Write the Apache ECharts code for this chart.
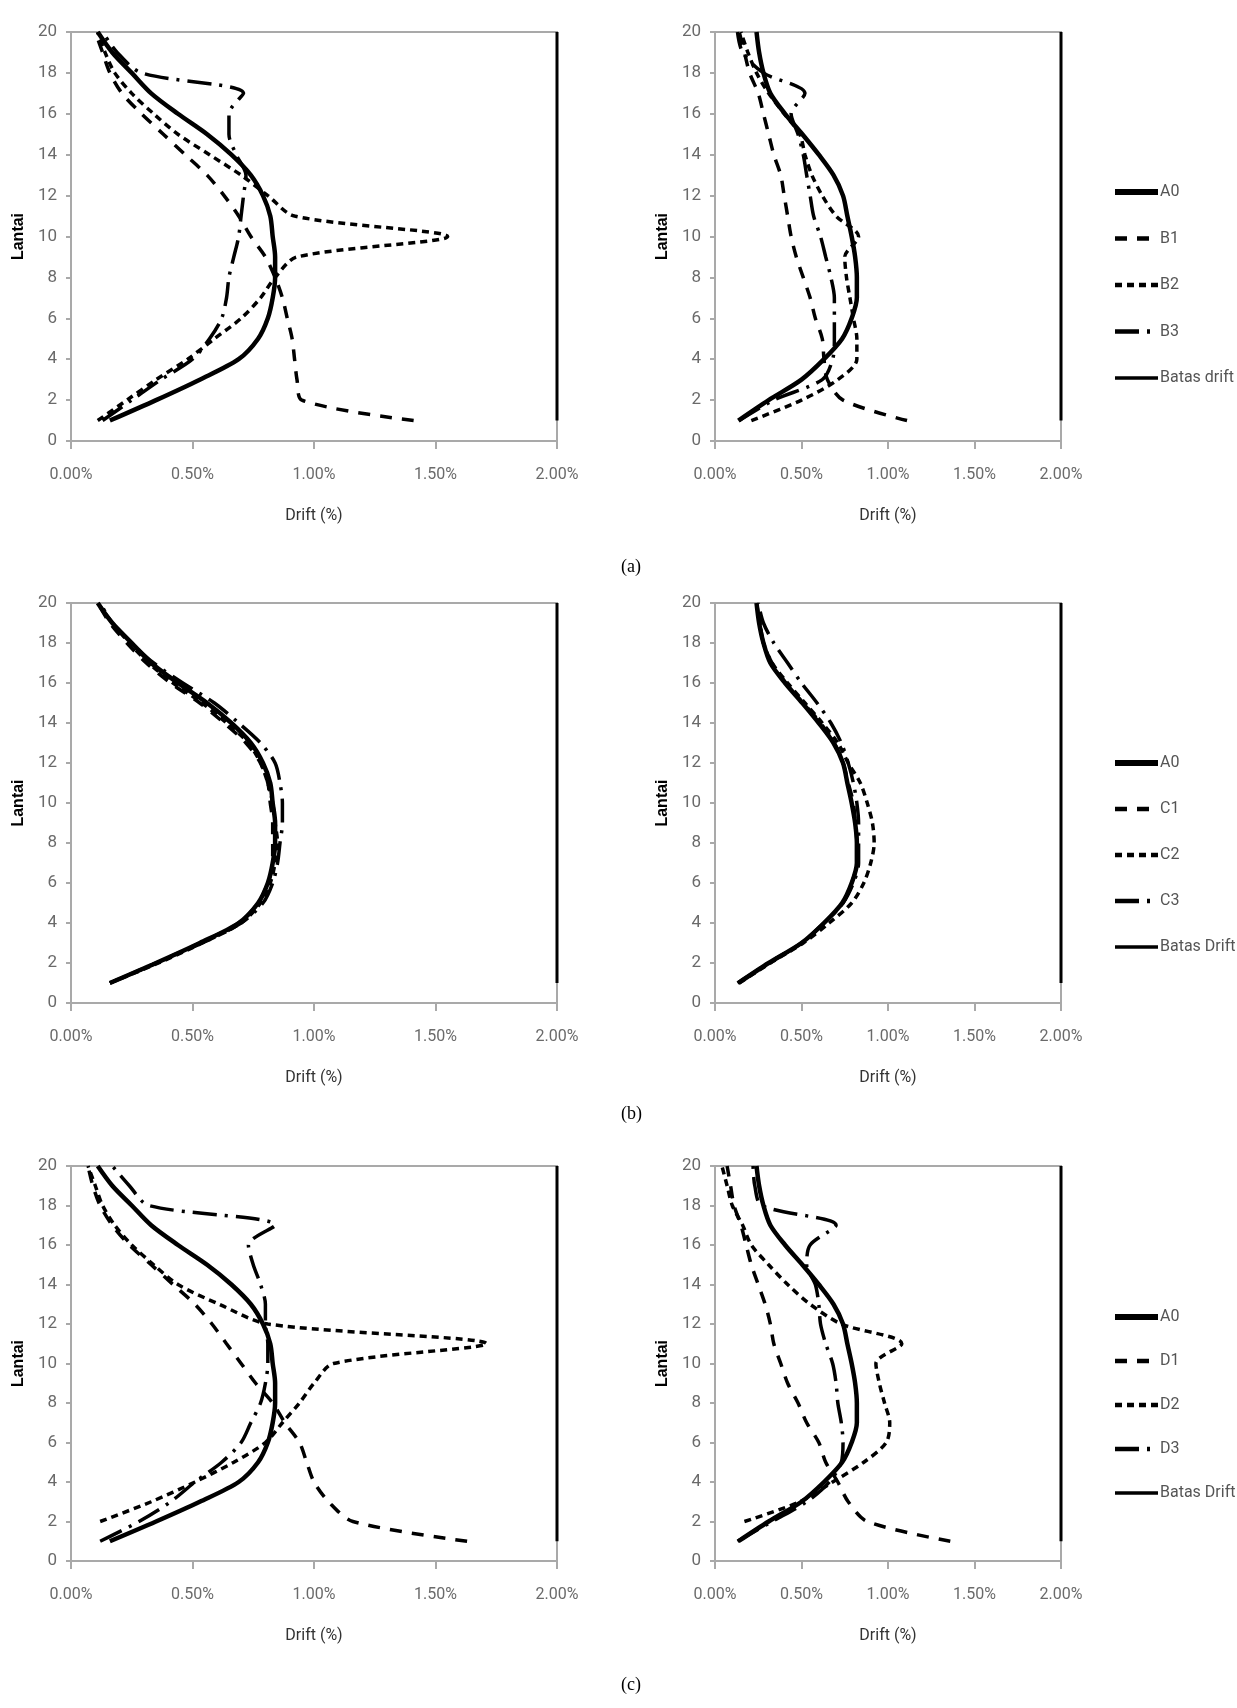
<!DOCTYPE html>
<html>
<head>
<meta charset="utf-8">
<script src="https://cdn.jsdelivr.net/npm/echarts@6/dist/echarts.min.js"></script>
<style>
html, body { margin: 0; padding: 0; background: #fff; }
#chart { width: 1237px; height: 1708px; }
</style>
</head>
<body>
<div id="chart"></div>
<script>
// lantai (floor) 1..20, drift in %
var floors = [1, 2, 3, 4, 5, 6, 7, 8, 9, 10, 11, 12, 13, 14, 15, 16, 17, 18, 19, 20];
var xTickLabels = ['0.00%', '0.50%', '1.00%', '1.50%', '2.00%'];
var driftLimit = 2.0;

// model A0 (same in every row)
var a0Left  = [0.16, 0.35, 0.53, 0.69, 0.77, 0.81, 0.83, 0.84, 0.84, 0.83, 0.82, 0.79, 0.74, 0.66, 0.56, 0.44, 0.33, 0.25, 0.17, 0.11];
var a0Right = [0.135, 0.31, 0.50, 0.63, 0.735, 0.79, 0.82, 0.82, 0.81, 0.79, 0.765, 0.74, 0.685, 0.60, 0.505, 0.405, 0.32, 0.28, 0.255, 0.24];

// row (a)
var b1Left  = [1.41, 0.95, 0.93, 0.92, 0.91, 0.89, 0.87, 0.84, 0.80, 0.74, 0.69, 0.63, 0.56, 0.47, 0.38, 0.29, 0.21, 0.16, 0.13, 0.10];
var b2Left  = [0.11, 0.23, 0.35, 0.48, 0.59, 0.70, 0.78, 0.84, 0.93, 1.55, 0.92, 0.81, 0.70, 0.57, 0.44, 0.34, 0.25, 0.18, 0.14, 0.11];
var b3Left  = [0.13, 0.25, 0.37, 0.50, 0.57, 0.62, 0.64, 0.65, 0.67, 0.69, 0.70, 0.71, 0.72, 0.68, 0.65, 0.65, 0.71, 0.29, 0.19, 0.13];
var b1Right = [1.11, 0.74, 0.65, 0.63, 0.62, 0.58, 0.55, 0.51, 0.47, 0.44, 0.42, 0.40, 0.38, 0.34, 0.31, 0.28, 0.25, 0.20, 0.17, 0.14];
var b2Right = [0.21, 0.50, 0.71, 0.82, 0.82, 0.80, 0.78, 0.76, 0.75, 0.83, 0.70, 0.62, 0.56, 0.52, 0.49, 0.40, 0.31, 0.24, 0.19, 0.15];
var b3Right = [0.14, 0.34, 0.62, 0.68, 0.69, 0.69, 0.69, 0.67, 0.64, 0.61, 0.57, 0.55, 0.53, 0.51, 0.48, 0.44, 0.52, 0.28, 0.16, 0.13];

// row (b)
var c1Left  = [0.16, 0.35, 0.53, 0.69, 0.77, 0.81, 0.83, 0.83, 0.83, 0.82, 0.81, 0.78, 0.72, 0.63, 0.53, 0.41, 0.31, 0.23, 0.16, 0.11];
var c2Left  = [0.16, 0.36, 0.54, 0.70, 0.78, 0.82, 0.84, 0.85, 0.84, 0.83, 0.81, 0.78, 0.73, 0.64, 0.54, 0.42, 0.32, 0.24, 0.17, 0.11];
var c3Left  = [0.16, 0.35, 0.54, 0.70, 0.79, 0.83, 0.85, 0.86, 0.87, 0.87, 0.86, 0.84, 0.78, 0.69, 0.59, 0.46, 0.34, 0.25, 0.17, 0.12];
var c1Right = [0.135, 0.31, 0.50, 0.63, 0.74, 0.79, 0.82, 0.82, 0.81, 0.80, 0.77, 0.74, 0.69, 0.61, 0.51, 0.41, 0.33, 0.28, 0.26, 0.24];
var c2Right = [0.14, 0.32, 0.51, 0.66, 0.79, 0.86, 0.90, 0.92, 0.91, 0.88, 0.84, 0.77, 0.71, 0.62, 0.52, 0.42, 0.33, 0.28, 0.26, 0.24];
var c3Right = [0.13, 0.31, 0.50, 0.63, 0.74, 0.80, 0.83, 0.83, 0.83, 0.82, 0.80, 0.77, 0.73, 0.67, 0.59, 0.50, 0.42, 0.34, 0.28, 0.25];

// row (c)
var d1Left  = [1.63, 1.16, 1.06, 1.00, 0.97, 0.94, 0.88, 0.83, 0.76, 0.70, 0.64, 0.58, 0.51, 0.42, 0.33, 0.24, 0.17, 0.12, 0.09, 0.07];
var d2Left  = [null, 0.12, 0.33, 0.51, 0.67, 0.80, 0.87, 0.94, 1.00, 1.08, 1.71, 0.81, 0.61, 0.44, 0.34, 0.25, 0.18, 0.13, 0.10, 0.07];
var d3Left  = [0.12, 0.28, 0.41, 0.51, 0.62, 0.70, 0.74, 0.78, 0.80, 0.81, 0.81, 0.80, 0.80, 0.78, 0.75, 0.73, 0.84, 0.32, 0.24, 0.17];
var d1Right = [1.36, 0.88, 0.77, 0.71, 0.64, 0.60, 0.53, 0.48, 0.42, 0.38, 0.34, 0.32, 0.29, 0.25, 0.21, 0.18, 0.15, 0.11, 0.09, 0.07];
var d2Right = [null, 0.17, 0.49, 0.68, 0.86, 0.99, 1.01, 0.98, 0.95, 0.93, 1.08, 0.73, 0.55, 0.42, 0.31, 0.21, 0.16, 0.10, 0.07, 0.04];
var d3Right = [0.13, 0.33, 0.53, 0.66, 0.73, 0.74, 0.73, 0.71, 0.70, 0.68, 0.64, 0.61, 0.60, 0.58, 0.53, 0.55, 0.70, 0.27, 0.23, 0.22];

var narrow = 'Roboto, "Liberation Sans", sans-serif';
var gray = '#a9a9a9';

// line look per position: A0, *1, *2, *3
var looks = [
  { width: 4.5, type: 'solid', legendWidth: 6 },
  { width: 3.5, type: [12, 10], legendWidth: 4.5 },
  { width: 3.5, type: [7, 5], legendWidth: 4.5 },
  { width: 3.5, type: [24, 8, 3, 8], legendWidth: 4.5 }
];

var panels = [
  { left: 71,  top: 32,   width: 486, height: 409, limit: 'Batas drift', lines: [['A0', a0Left], ['B1', b1Left], ['B2', b2Left], ['B3', b3Left]] },
  { left: 715, top: 32,   width: 346, height: 409, limit: 'Batas drift', lines: [['A0', a0Right], ['B1', b1Right], ['B2', b2Right], ['B3', b3Right]] },
  { left: 71,  top: 603,  width: 486, height: 400, limit: 'Batas Drift', lines: [['A0', a0Left], ['C1', c1Left], ['C2', c2Left], ['C3', c3Left]] },
  { left: 715, top: 603,  width: 346, height: 400, limit: 'Batas Drift', lines: [['A0', a0Right], ['C1', c1Right], ['C2', c2Right], ['C3', c3Right]] },
  { left: 71,  top: 1166, width: 486, height: 395, limit: 'Batas Drift', lines: [['A0', a0Left], ['D1', d1Left], ['D2', d2Left], ['D3', d3Left]] },
  { left: 715, top: 1166, width: 346, height: 395, limit: 'Batas Drift', lines: [['A0', a0Right], ['D1', d1Right], ['D2', d2Right], ['D3', d3Right]] }
];

function pairs(values) {
  var out = [];
  values.forEach(function (v, i) {
    if (v !== null) out.push([v, floors[i]]);
  });
  return out;
}

var grids = [], xAxes = [], yAxes = [], series = [];

panels.forEach(function (p, i) {
  grids.push({
    left: p.left, top: p.top, width: p.width, height: p.height,
    show: true, borderColor: gray, borderWidth: 2,
    outerBoundsMode: 'none'
  });
  xAxes.push({
    gridIndex: i, type: 'value', min: 0, max: 2, interval: 0.5,
    name: 'Drift (%)', nameLocation: 'middle', nameGap: 67,
    nameTextStyle: { color: '#333', fontSize: 16, fontFamily: narrow },
    axisLine: { show: true, lineStyle: { color: gray, width: 2 } },
    axisTick: { show: true, length: 8, lineStyle: { color: gray, width: 2 } },
    axisLabel: {
      color: '#6a6a6a', fontSize: 16, fontFamily: narrow, margin: 26,
      formatter: function (v) { return xTickLabels[Math.round(v / 0.5)]; }
    },
    splitLine: { show: false }
  });
  yAxes.push({
    gridIndex: i, type: 'value', min: 0, max: 20, interval: 2,
    name: 'Lantai', nameLocation: 'middle', nameGap: 44,
    nameTextStyle: { color: '#000', fontSize: 16, fontWeight: 'bold', fontFamily: '"Liberation Sans", Arial, sans-serif' },
    axisLine: { show: true, lineStyle: { color: gray, width: 2 } },
    axisTick: { show: true, length: 5, lineStyle: { color: gray, width: 2 } },
    axisLabel: { color: '#6a6a6a', fontSize: 17, fontFamily: narrow, margin: 14 },
    splitLine: { show: false }
  });
  p.lines.forEach(function (ln, k) {
    series.push({
      type: 'line', name: ln[0], xAxisIndex: i, yAxisIndex: i,
      data: pairs(ln[1]), symbol: 'none', smooth: 0.3,
      itemStyle: { color: '#000' },
      lineStyle: { color: '#000', width: looks[k].width, type: looks[k].type },
      z: 5 - k
    });
  });
  series.push({
    type: 'line', name: p.limit, xAxisIndex: i, yAxisIndex: i,
    data: [[driftLimit, 1], [driftLimit, 20]], symbol: 'none', clip: false,
    itemStyle: { color: '#000' },
    lineStyle: { color: '#000', width: 3 }, z: 6
  });
});

function legendAt(top, gap, names) {
  return {
    orient: 'vertical', left: 1107, top: top, itemGap: gap,
    itemWidth: 43, itemHeight: 16, selectedMode: false,
    data: names.map(function (n, k) {
      var w = k < 4 ? looks[k].legendWidth : 3.5;
      return { name: n, lineStyle: { width: w, type: k < 4 ? looks[k].type : 'solid', color: '#000' } };
    }),
    itemStyle: { opacity: 0 },
    textStyle: { color: '#555', fontSize: 16, fontFamily: narrow, padding: [0, 0, 0, -3] }
  };
}

function caption(text, y) {
  return {
    type: 'text', left: 621, top: y - 10,
    style: { text: text, fill: '#000', fontSize: 18, fontFamily: '"Liberation Serif", "Times New Roman", serif' }
  };
}

var chart = echarts.init(document.getElementById('chart'), null, { renderer: 'canvas' });
chart.setOption({
  animation: false,
  backgroundColor: '#fff',
  grid: grids,
  xAxis: xAxes,
  yAxis: yAxes,
  legend: [
    legendAt(179, 30.5, ['A0', 'B1', 'B2', 'B3', 'Batas drift']),
    legendAt(750, 30, ['A0', 'C1', 'C2', 'C3', 'Batas Drift']),
    legendAt(1304, 28, ['A0', 'D1', 'D2', 'D3', 'Batas Drift'])
  ],
  graphic: [caption('(a)', 568), caption('(b)', 1115), caption('(c)', 1686)],
  series: series
});
</script>
</body>
</html>
